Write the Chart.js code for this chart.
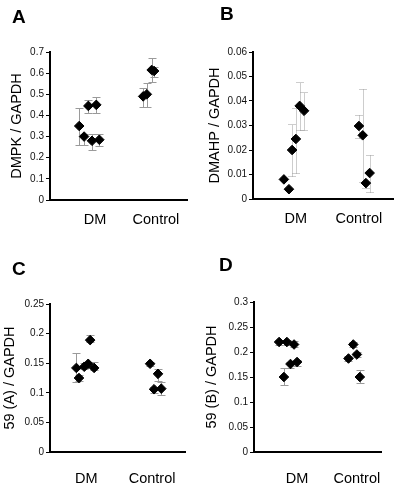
<!DOCTYPE html>
<html lang="en">
<head>
<meta charset="UTF-8">
<title>DMPK, DMAHP and 59 expression</title>
<script src="https://cdn.jsdelivr.net/npm/chart.js"></script>
<style>
    body { margin: 0; background: #fff; }
    .page {
        position: relative;
        width: 400px;
        height: 488px;
        font-family: "Liberation Sans", Arial, sans-serif;
    }
    .panel { position: absolute; }
    .letter {
        position: absolute;
        font-weight: bold;
        font-size: 19px;
        line-height: 1;
        color: #000;
    }
</style>
</head>
<body>
<div class="page">
    <div class="panel" style="left:0;top:0"><canvas id="chartA" width="200" height="240"></canvas></div>
    <div class="panel" style="left:200px;top:0"><canvas id="chartB" width="200" height="240"></canvas></div>
    <div class="panel" style="left:0;top:240px"><canvas id="chartC" width="200" height="248"></canvas></div>
    <div class="panel" style="left:200px;top:240px"><canvas id="chartD" width="200" height="248"></canvas></div>
    <div class="letter" style="left:12px;top:7px">A</div>
    <div class="letter" style="left:220px;top:4px">B</div>
    <div class="letter" style="left:12px;top:259px">C</div>
    <div class="letter" style="left:219px;top:255px">D</div>
</div>

<script>
    const categories = ['DM', 'Control'];

    // A: DMPK / GAPDH (6 DM, 4 control), x = group position with jitter
    const aX  = [0.74, 0.82, 0.89, 0.95, 1.02, 1.07, 1.79, 1.85, 1.93, 1.97];
    const aY  = [0.35, 0.30, 0.445, 0.28, 0.45, 0.285, 0.49, 0.50, 0.615, 0.61];
    const aLo = [0.26, 0.26, 0.41, 0.235, 0.41, 0.255, 0.44, 0.44, 0.56, 0.58];
    const aHi = [0.435, 0.31, 0.475, 0.31, 0.485, 0.31, 0.53, 0.555, 0.67, 0.63];

    // B: DMAHP / GAPDH
    const bX  = [0.81, 0.89, 0.94, 1.00, 1.06, 1.13, 2.00, 2.06, 2.11, 2.17];
    const bY  = [0.008, 0.004, 0.020, 0.0245, 0.038, 0.036, 0.0298, 0.026, 0.0065, 0.0106];
    const bLo = [0.008, 0.004, 0.0094, 0.0106, 0.028, 0.028, 0.025, 0.007, 0.0045, 0.003];
    const bHi = [0.008, 0.004, 0.0306, 0.037, 0.0478, 0.0437, 0.0343, 0.045, 0.0065, 0.018];

    // C: 59 (A) / GAPDH
    const cX  = [0.85, 0.89, 0.97, 1.03, 1.06, 1.12, 1.97, 2.03, 2.09, 2.14];
    const cY  = [0.142, 0.125, 0.144, 0.149, 0.189, 0.142, 0.149, 0.106, 0.132, 0.107];
    const cLo = [0.118, 0.12, 0.14, 0.145, 0.185, 0.138, 0.145, 0.10, 0.12, 0.097];
    const cHi = [0.167, 0.13, 0.15, 0.152, 0.197, 0.152, 0.152, 0.11, 0.14, 0.118];

    // D: 59 (B) / GAPDH
    const dX  = [0.70, 0.78, 0.83, 0.89, 0.95, 1.00, 1.86, 1.94, 2.00, 2.05];
    const dY  = [0.22, 0.15, 0.22, 0.176, 0.215, 0.18, 0.187, 0.215, 0.195, 0.15];
    const dLo = [0.215, 0.135, 0.215, 0.168, 0.21, 0.172, 0.183, 0.21, 0.19, 0.138];
    const dHi = [0.224, 0.168, 0.224, 0.18, 0.222, 0.185, 0.192, 0.22, 0.2, 0.165];

    Chart.defaults.font.family = '"Liberation Sans", Arial, sans-serif';

    // grey error bars with small caps, drawn behind the points
    const errorBars = {
        id: 'errorBars',
        beforeDatasetsDraw(chart, args, opts) {
            const ctx = chart.ctx;
            const xs = chart.scales.x, ys = chart.scales.y;
            const ds = chart.data.datasets[0];
            ctx.save();
            ctx.strokeStyle = '#9a9a9a';
            ctx.lineWidth = 1;
            ctx.setLineDash(opts.dotted ? [1, 1] : []);
            ds.data.forEach(function(p, i) {
                const px = Math.round(xs.getPixelForValue(p.x)) + 0.5;
                const yLo = Math.round(ys.getPixelForValue(ds.errLo[i])) + 0.5;
                const yHi = Math.round(ys.getPixelForValue(ds.errHi[i])) + 0.5;
                ctx.beginPath();
                ctx.moveTo(px, yLo);
                ctx.lineTo(px, yHi);
                if (ds.errLo[i] < p.y) { ctx.moveTo(px - 4, yLo); ctx.lineTo(px + 4, yLo); }
                if (ds.errHi[i] > p.y) { ctx.moveTo(px - 4, yHi); ctx.lineTo(px + 4, yHi); }
                ctx.stroke();
            });
            ctx.restore();
        }
    };

    function makePanel(id, o) {
        return new Chart(document.getElementById(id), {
            type: 'scatter',
            data: {
                datasets: [{
                    data: o.xs.map(function(x, i) { return { x: x, y: o.ys[i] }; }),
                    errLo: o.lo,
                    errHi: o.hi,
                    backgroundColor: '#000',
                    borderColor: '#000',
                    pointStyle: 'rectRot',
                    pointRadius: 4.8,
                    pointHoverRadius: 4.8
                }]
            },
            options: {
                responsive: false,
                animation: false,
                events: [],
                layout: { padding: { left: 0, top: o.top, right: o.right, bottom: 0 } },
                plugins: {
                    legend: { display: false },
                    tooltip: { enabled: false },
                    errorBars: { dotted: o.dotted }
                },
                scales: {
                    x: {
                        type: 'linear',
                        min: o.xMin,
                        max: o.xMax,
                        afterBuildTicks: function(s) {
                            s.ticks = categories.map(function(c, i) { return { value: i + 1 }; });
                        },
                        afterFit: function(s) { s.height = o.xH; },
                        grid: { display: false, drawTicks: false },
                        border: { display: true, color: '#000', width: 2 },
                        ticks: {
                            callback: function(v) { return categories[v - 1]; },
                            padding: o.labPad,
                            color: '#000',
                            font: { size: 14.5 },
                            maxRotation: 0
                        }
                    },
                    y: {
                        min: 0,
                        max: o.yMax,
                        afterFit: function(s) { s.width = o.axisX; },
                        ticks: {
                            stepSize: o.step,
                            callback: function(v) { return String(+v.toFixed(3)); },
                            padding: 2,
                            color: '#111',
                            font: { size: 10 }
                        },
                        grid: { drawOnChartArea: false, tickLength: 4, color: '#000' },
                        border: { color: '#000', width: 2 },
                        title: {
                            display: true,
                            text: o.title,
                            color: '#000',
                            font: { size: 14.5 },
                            padding: { top: o.titlePad, bottom: 0 }
                        }
                    }
                }
            },
            plugins: [errorBars]
        });
    }

    makePanel('chartA', {
        xs: aX, ys: aY, lo: aLo, hi: aHi, title: 'DMPK / GAPDH',
        yMax: 0.7, step: 0.1, xMin: 0.26, xMax: 2.51,
        axisX: 50, top: 52, right: 13, xH: 40, labPad: 11, titlePad: 8.3
    });
    makePanel('chartB', {
        xs: bX, ys: bY, lo: bLo, hi: bHi, title: 'DMAHP / GAPDH', dotted: true,
        yMax: 0.06, step: 0.01, xMin: 0.32, xMax: 2.54,
        axisX: 53, top: 52, right: 7, xH: 41, labPad: 11, titlePad: 6.3
    });
    makePanel('chartC', {
        xs: cX, ys: cY, lo: cLo, hi: cHi, title: '59 (A) / GAPDH',
        yMax: 0.25, step: 0.05, xMin: 0.45, xMax: 2.5,
        axisX: 50, top: 64, right: 15, xH: 36, labPad: 18, titlePad: 1.3
    });
    makePanel('chartD', {
        xs: dX, ys: dY, lo: dLo, hi: dHi, title: '59 (B) / GAPDH',
        yMax: 0.3, step: 0.05, xMin: 0.28, xMax: 2.42,
        axisX: 54, top: 62, right: 9, xH: 36, labPad: 18, titlePad: 3.3
    });
</script>
</body>
</html>
